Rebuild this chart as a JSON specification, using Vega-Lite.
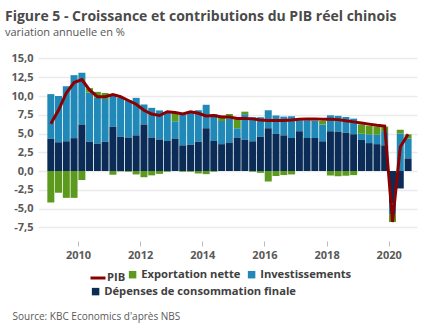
{
  "$schema": "https://vega.github.io/schema/vega-lite/v6.json",
  "width": 379,
  "height": 180,
  "autosize": "none",
  "padding": {"left": 38, "top": 51, "right": 15, "bottom": 103},
  "background": "white",
  "title": {
    "text": "Figure 5 - Croissance et contributions du PIB réel chinois",
    "subtitle": "variation annuelle en %",
    "anchor": "start",
    "frame": "group",
    "dx": -33,
    "offset": 13,
    "font": "Open Sans",
    "fontSize": 14,
    "fontWeight": "bold",
    "color": "#4a4a4a",
    "subtitleFont": "Open Sans",
    "subtitleFontSize": 11,
    "subtitleColor": "#555555",
    "subtitlePadding": 3
  },
  "config": {
    "locale": {"number": {"decimal": ",", "thousands": ".", "grouping": [3], "currency": ["", " €"], "minus": "-"}},
    "view": {"stroke": null},
    "axis": {"labelFont": "Open Sans", "labelFontWeight": "bold", "labelFontSize": 11, "labelColor": "#595959", "labelOverlap": false},
    "legend": {
      "title": null,
      "orient": "none",
      "direction": "horizontal",
      "labelFont": "Open Sans",
      "labelFontSize": 11.2,
      "labelFontWeight": "bold",
      "labelColor": "#404040",
      "labelLimit": 400,
      "columnPadding": 5,
      "labelOffset": 3
    }
  },
  "data": {
    "values": [
      {"date": "2009-02-15", "cons": 4.3, "inv": 5.95, "nx": -4.2, "pib": 6.3},
      {"date": "2009-05-16", "cons": 3.83, "inv": 6.17, "nx": -2.9, "pib": 8.1},
      {"date": "2009-08-16", "cons": 3.96, "inv": 7.34, "nx": -3.58, "pib": 10.4},
      {"date": "2009-11-15", "cons": 4.38, "inv": 8.4, "nx": -3.58, "pib": 11.8},
      {"date": "2010-02-15", "cons": 6.2, "inv": 6.9, "nx": -1.2, "pib": 12.2},
      {"date": "2010-05-16", "cons": 3.9, "inv": 6.55, "nx": 0.6, "pib": 10.8},
      {"date": "2010-08-16", "cons": 3.65, "inv": 6.15, "nx": 0.75, "pib": 9.9},
      {"date": "2010-11-15", "cons": 3.9, "inv": 5.7, "nx": 0.8, "pib": 9.9},
      {"date": "2011-02-15", "cons": 5.9, "inv": 4.25, "nx": -0.5, "pib": 10.2},
      {"date": "2011-05-16", "cons": 4.58, "inv": 5.17, "nx": -0.05, "pib": 9.9},
      {"date": "2011-08-16", "cons": 4.46, "inv": 5.0, "nx": -0.1, "pib": 9.4},
      {"date": "2011-11-15", "cons": 4.75, "inv": 5.0, "nx": -0.46, "pib": 8.9},
      {"date": "2012-02-15", "cons": 6.2, "inv": 2.67, "nx": -0.83, "pib": 8.1},
      {"date": "2012-05-16", "cons": 4.46, "inv": 3.96, "nx": -0.58, "pib": 7.6},
      {"date": "2012-08-16", "cons": 4.2, "inv": 3.88, "nx": -0.38, "pib": 7.4},
      {"date": "2012-11-15", "cons": 4.0, "inv": 3.8, "nx": -0.1, "pib": 7.9},
      {"date": "2013-02-15", "cons": 4.33, "inv": 2.3, "nx": 1.15, "pib": 7.8},
      {"date": "2013-05-16", "cons": 3.42, "inv": 4.16, "nx": -0.1, "pib": 7.6},
      {"date": "2013-08-16", "cons": 3.5, "inv": 4.4, "nx": -0.1, "pib": 7.9},
      {"date": "2013-11-15", "cons": 3.9, "inv": 4.2, "nx": -0.33, "pib": 7.7},
      {"date": "2014-02-15", "cons": 5.7, "inv": 3.13, "nx": -0.42, "pib": 7.35},
      {"date": "2014-05-16", "cons": 4.0, "inv": 3.58, "nx": -0.1, "pib": 7.4},
      {"date": "2014-08-16", "cons": 3.58, "inv": 3.09, "nx": 0.7, "pib": 7.2},
      {"date": "2014-11-15", "cons": 3.8, "inv": 3.16, "nx": 0.64, "pib": 7.2},
      {"date": "2015-02-15", "cons": 4.46, "inv": 1.24, "nx": 1.2, "pib": 7.0},
      {"date": "2015-05-16", "cons": 4.17, "inv": 3.41, "nx": 0.33, "pib": 7.0},
      {"date": "2015-08-16", "cons": 3.96, "inv": 3.21, "nx": -0.1, "pib": 6.95},
      {"date": "2015-11-15", "cons": 4.58, "inv": 2.59, "nx": -0.25, "pib": 6.8},
      {"date": "2016-02-15", "cons": 5.7, "inv": 2.4, "nx": -1.4, "pib": 6.75},
      {"date": "2016-05-16", "cons": 4.96, "inv": 2.44, "nx": -0.67, "pib": 6.75},
      {"date": "2016-08-16", "cons": 4.75, "inv": 2.5, "nx": -0.54, "pib": 6.75},
      {"date": "2016-11-15", "cons": 4.4, "inv": 2.9, "nx": -0.46, "pib": 6.8},
      {"date": "2017-02-15", "cons": 5.3, "inv": 1.45, "nx": 0.1, "pib": 6.9},
      {"date": "2017-05-16", "cons": 4.4, "inv": 2.35, "nx": 0.05, "pib": 6.95},
      {"date": "2017-08-16", "cons": 4.4, "inv": 2.3, "nx": 0.05, "pib": 6.95},
      {"date": "2017-11-15", "cons": 3.96, "inv": 2.24, "nx": 0.47, "pib": 6.9},
      {"date": "2018-02-15", "cons": 5.3, "inv": 2.13, "nx": -0.6, "pib": 6.9},
      {"date": "2018-05-16", "cons": 5.25, "inv": 2.1, "nx": -0.7, "pib": 6.85},
      {"date": "2018-08-16", "cons": 5.1, "inv": 2.1, "nx": -0.63, "pib": 6.7},
      {"date": "2018-11-15", "cons": 4.9, "inv": 2.08, "nx": -0.55, "pib": 6.55},
      {"date": "2019-02-15", "cons": 4.15, "inv": 0.81, "nx": 1.25, "pib": 6.4},
      {"date": "2019-05-16", "cons": 3.72, "inv": 1.18, "nx": 1.15, "pib": 6.25},
      {"date": "2019-08-16", "cons": 3.58, "inv": 1.25, "nx": 1.1, "pib": 6.1},
      {"date": "2019-11-15", "cons": 3.42, "inv": 1.9, "nx": 0.6, "pib": 6.0},
      {"date": "2020-02-15", "cons": -4.3, "inv": -1.45, "nx": -1.05, "pib": -6.8},
      {"date": "2020-05-16", "cons": -2.33, "inv": 5.0, "nx": 0.5, "pib": 3.2},
      {"date": "2020-08-16", "cons": 1.67, "inv": 2.66, "nx": 0.55, "pib": 4.9}
    ]
  },
  "encoding": {
    "x": {
      "field": "date",
      "type": "temporal",
      "scale": {"domain": [{"year": 2008, "month": 11, "date": 15}, {"year": 2020, "month": 10, "date": 1}]},
      "axis": {
        "values": [{"year": 2010}, {"year": 2012}, {"year": 2014}, {"year": 2016}, {"year": 2018}, {"year": 2020}],
        "tickCount": 12,
        "format": "%Y",
        "title": "Source: KBC Economics d'après NBS",
        "titleX": -26,
        "titleY": 75,
        "titleAlign": "left",
        "titleAnchor": "start",
        "titleBaseline": "middle",
        "titleFont": "Open Sans",
        "titleFontSize": 10,
        "titleFontWeight": "normal",
        "titleColor": "#595959",
        "domain": false,
        "grid": false,
        "ticks": true,
        "tickSize": 5,
        "tickColor": "#bbbbbb",
        "offset": 10,
        "labelPadding": 3
      }
    }
  },
  "layer": [
    {
      "transform": [
        {"fold": ["cons", "inv", "nx"], "as": ["serie", "valeur"]},
        {"stack": "valeur", "groupby": ["date"], "sort": [{"field": "serie", "order": "ascending"}], "as": ["y0", "y1"], "offset": "zero"},
        {"filter": "datum.serie != 'cons'"}
      ],
      "mark": {"type": "bar", "size": 7},
      "encoding": {
        "y": {
          "field": "y0",
          "type": "quantitative",
          "scale": {"domain": [-7.5, 15]},
          "axis": {
            "values": [-7.5, -5, -2.5, 0, 2.5, 5, 7.5, 10, 12.5, 15],
            "tickCount": 12,
            "format": ".1f",
            "labelOverlap": false,
            "title": null,
            "domain": false,
            "ticks": false,
            "gridColor": "#ebebeb",
            "gridWidth": 1.5,
            "labelPadding": 5
          }
        },
        "y2": {"field": "y1"},
        "fill": {
          "field": "serie",
          "type": "nominal",
          "scale": {"domain": ["nx", "inv"], "range": ["#5c9a1e", "#2189b7"]},
          "legend": {
            "legendX": 89,
            "legendY": 218,
            "symbolType": "square",
            "symbolSize": 56,
            "symbolStrokeWidth": 0,
            "labelExpr": "datum.label == 'nx' ? 'Exportation nette' : 'Investissements'"
          }
        }
      }
    },
    {
      "transform": [
        {"fold": ["cons", "inv", "nx"], "as": ["serie", "valeur"]},
        {"stack": "valeur", "groupby": ["date"], "sort": [{"field": "serie", "order": "ascending"}], "as": ["y0", "y1"], "offset": "zero"},
        {"filter": "datum.serie == 'cons'"}
      ],
      "mark": {"type": "bar", "size": 7},
      "encoding": {
        "y": {"field": "y0", "type": "quantitative"},
        "y2": {"field": "y1"},
        "color": {
          "field": "serie",
          "type": "nominal",
          "scale": {"domain": ["cons"], "range": ["#0b2c57"]},
          "legend": {
            "legendX": 52,
            "legendY": 235,
            "symbolType": "square",
            "symbolSize": 56,
            "symbolStrokeWidth": 0,
            "labelExpr": "'Dépenses de consommation finale'"
          }
        }
      }
    },
    {
      "mark": {"type": "line", "strokeWidth": 3},
      "encoding": {
        "y": {"field": "pib", "type": "quantitative"},
        "stroke": {
          "datum": "PIB",
          "type": "nominal",
          "scale": {"domain": ["PIB"], "range": ["#8b0000"]},
          "legend": {
            "legendX": 51,
            "legendY": 218,
            "symbolType": "stroke",
            "symbolSize": 225,
            "symbolStrokeWidth": 3,
            "labelOffset": 0
          }
        }
      }
    }
  ]
}
